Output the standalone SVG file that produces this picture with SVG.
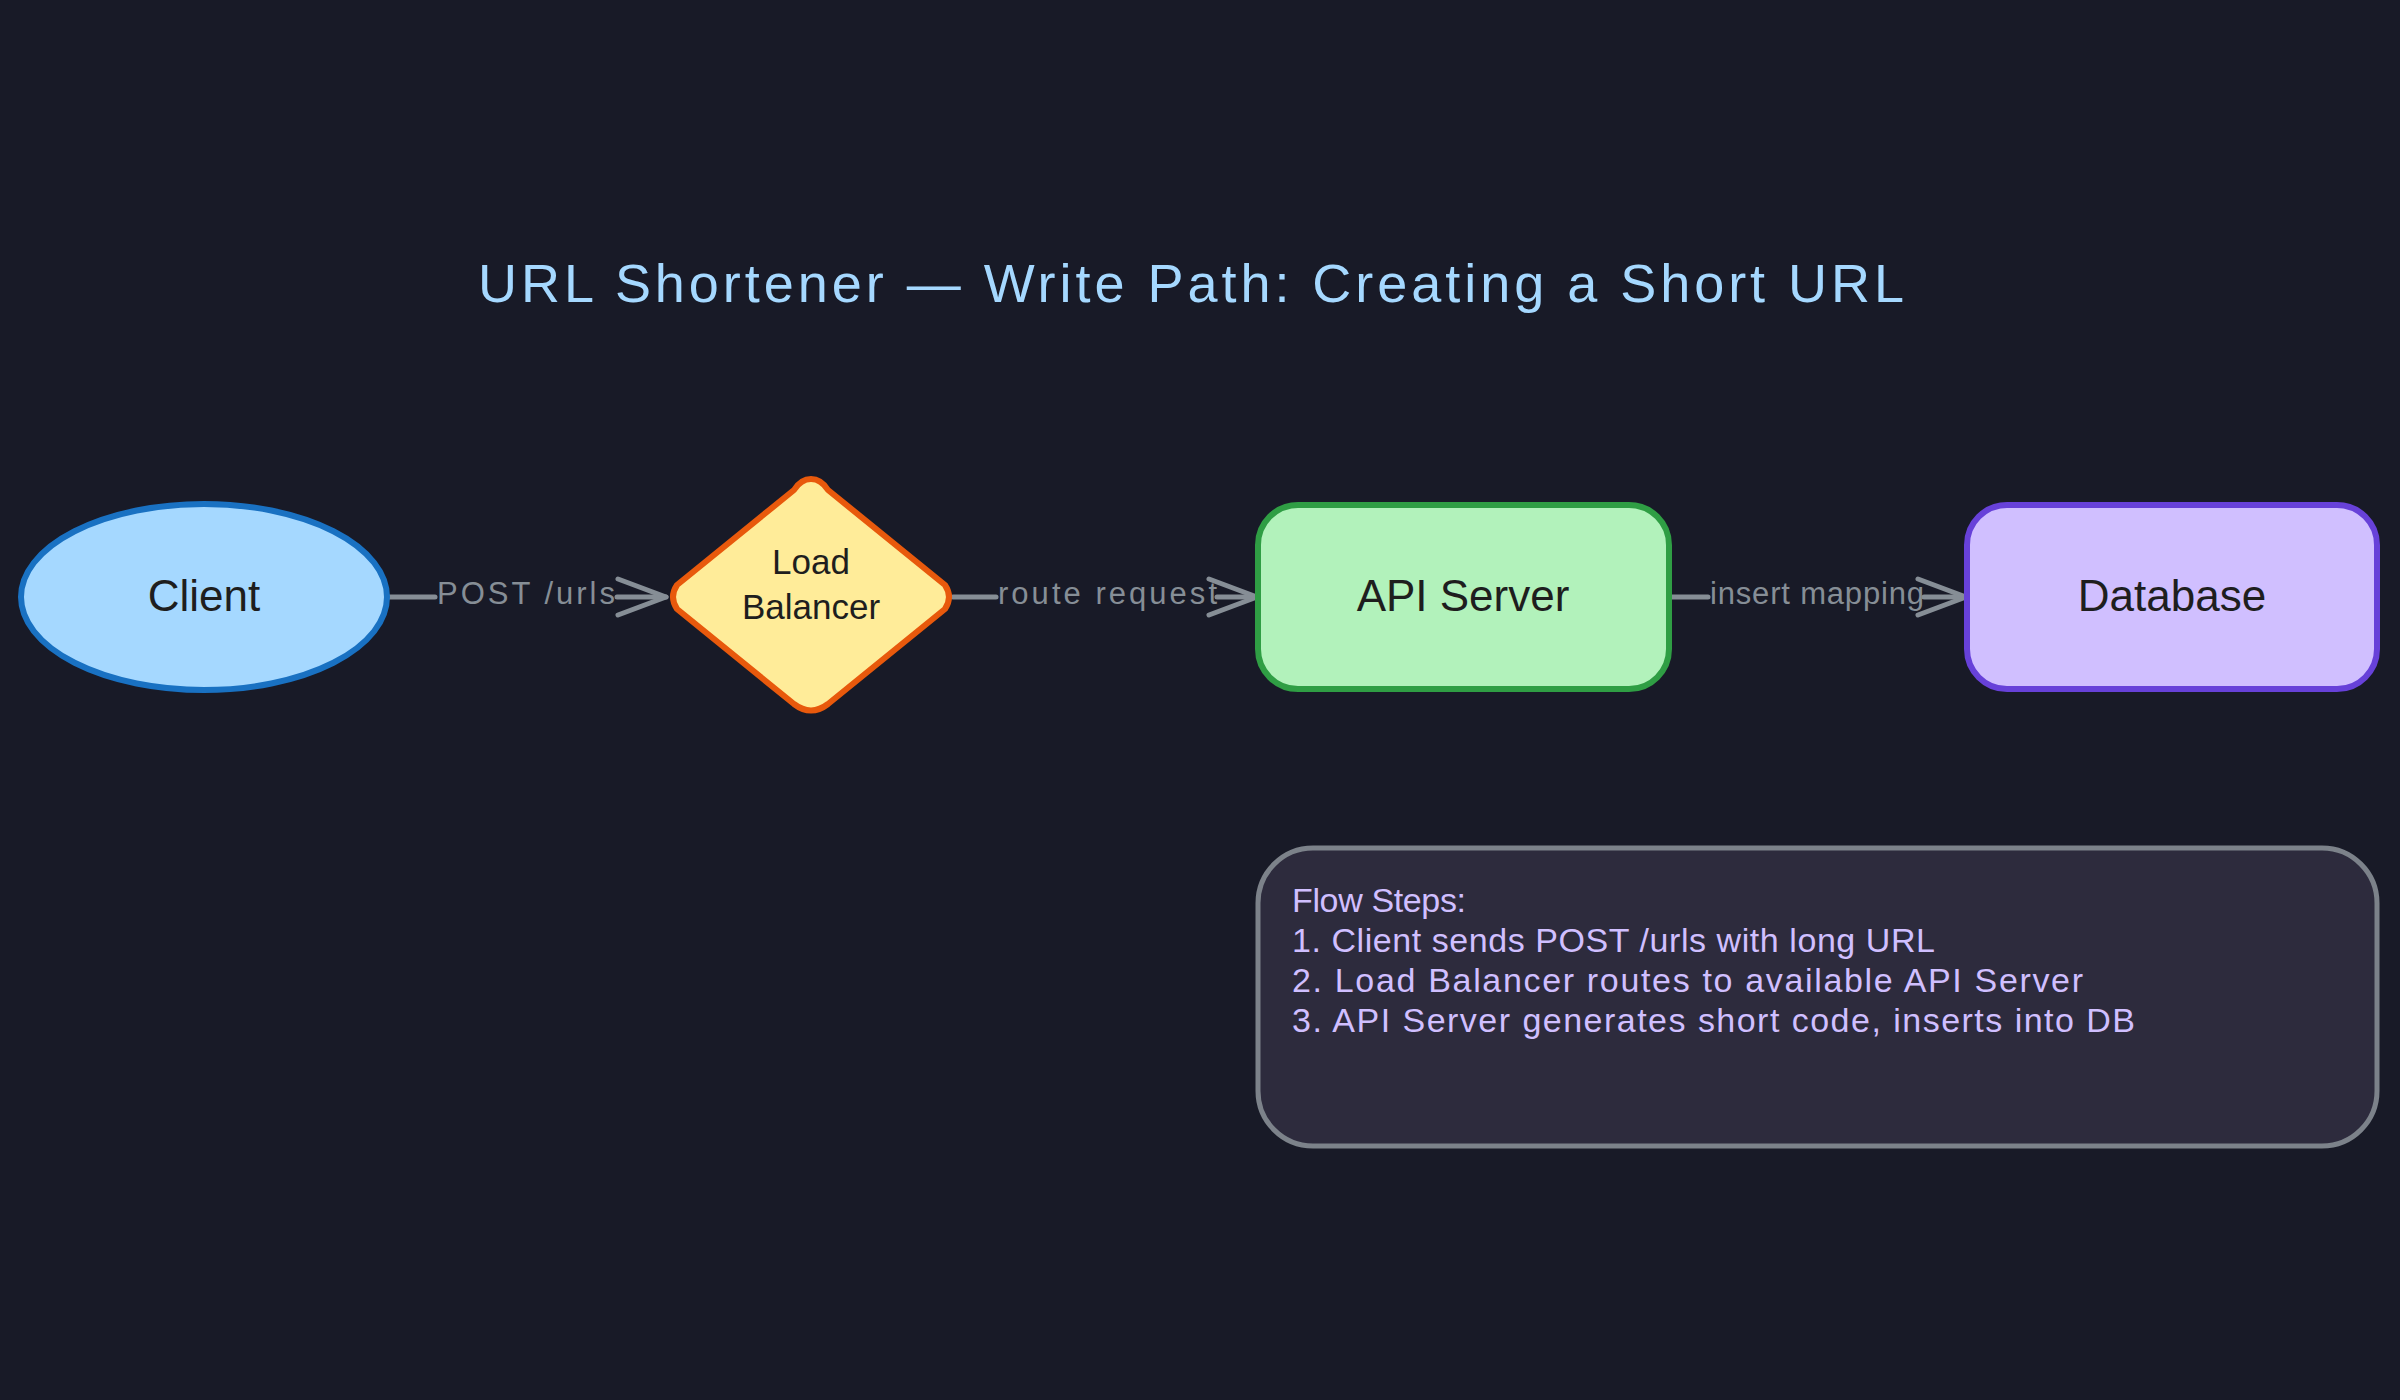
<svg xmlns="http://www.w3.org/2000/svg" width="2400" height="1400" viewBox="0 0 2400 1400">
<defs>
<style>
.lbl{font-family:"Liberation Sans","DejaVu Sans",sans-serif;fill:#1e1e1e;text-anchor:middle;dominant-baseline:central}
.edge{stroke:#868e96;stroke-width:5;fill:none;stroke-linecap:round}
.elbl{font-family:"Liberation Sans","DejaVu Sans",sans-serif;font-size:31px;fill:#868e96;dominant-baseline:central}
.note{font-family:"Liberation Sans","DejaVu Sans",sans-serif;font-size:34px;fill:#d0bfff}
</style>
<marker id="arr" viewBox="-54 -24 58 48" refX="0" refY="0" markerWidth="58" markerHeight="48" markerUnits="userSpaceOnUse" orient="auto">
<path d="M-48,-18 L0,0 L-48,18" stroke="#868e96" stroke-width="5" fill="none" stroke-linecap="round" stroke-linejoin="round"/>
</marker>
</defs>
<rect width="2400" height="1400" fill="#181a27"/>
<text x="1191" y="302" font-family="Liberation Sans, DejaVu Sans, sans-serif" font-size="54" fill="#a5d8ff" text-anchor="middle" textLength="1426" lengthAdjust="spacing">URL Shortener — Write Path: Creating a Short URL</text>
<g id="connectors">
<path class="edge" d="M389,597 L435,597"/>
<path class="edge" d="M617,597 L666,597" marker-end="url(#arr)"/>
<text class="elbl" x="437" y="593" textLength="178" lengthAdjust="spacing">POST /urls</text>
<path class="edge" d="M953,597 L996,597"/>
<path class="edge" d="M1217,597 L1257,597" marker-end="url(#arr)"/>
<text class="elbl" x="998" y="593" textLength="219" lengthAdjust="spacing">route request</text>
<path class="edge" d="M1670,597 L1708,597"/>
<path class="edge" d="M1924,597 L1966,597" marker-end="url(#arr)"/>
<text class="elbl" x="1710" y="593" textLength="214" lengthAdjust="spacing">insert mapping</text>
</g>
<g id="client">
<ellipse cx="204" cy="597" rx="183" ry="93" fill="#a5d8ff" stroke="#1971c2" stroke-width="6"/>
<text class="lbl" x="204" y="595" font-size="44">Client</text>
</g>
<g id="load-balancer">
<path d="M811,479 Q821,479 828,490 L945,585 Q953,597 945,609 L828,704 Q811,717 794,704 L677,609 Q669,597 677,585 L794,490 Q801,479 811,479 Z" fill="#ffec99" stroke="#e8590c" stroke-width="6" stroke-linejoin="round"/>
<text class="lbl" x="811" y="561" font-size="35">Load</text>
<text class="lbl" x="811" y="606" font-size="35">Balancer</text>
</g>
<g id="api-server">
<rect x="1258" y="505" width="411" height="184" rx="40" fill="#b2f2bb" stroke="#2f9e44" stroke-width="6"/>
<text class="lbl" x="1463" y="595" font-size="44">API Server</text>
</g>
<g id="database">
<rect x="1967" y="505" width="410" height="184" rx="40" fill="#d0bfff" stroke="#6741d9" stroke-width="6"/>
<text class="lbl" x="2172" y="595" font-size="44">Database</text>
</g>
<g id="notes">
<rect x="1258" y="848" width="1119" height="298" rx="55" fill="#2d2b3d" stroke="#7c828a" stroke-width="5"/>
<text class="note" x="1292" y="912" textLength="174" lengthAdjust="spacing">Flow Steps:</text>
<text class="note" x="1292" y="952" textLength="643" lengthAdjust="spacing">1. Client sends POST /urls with long URL</text>
<text class="note" x="1292" y="992" textLength="791" lengthAdjust="spacing">2. Load Balancer routes to available API Server</text>
<text class="note" x="1292" y="1032" textLength="843" lengthAdjust="spacing">3. API Server generates short code, inserts into DB</text>
</g>
</svg>
